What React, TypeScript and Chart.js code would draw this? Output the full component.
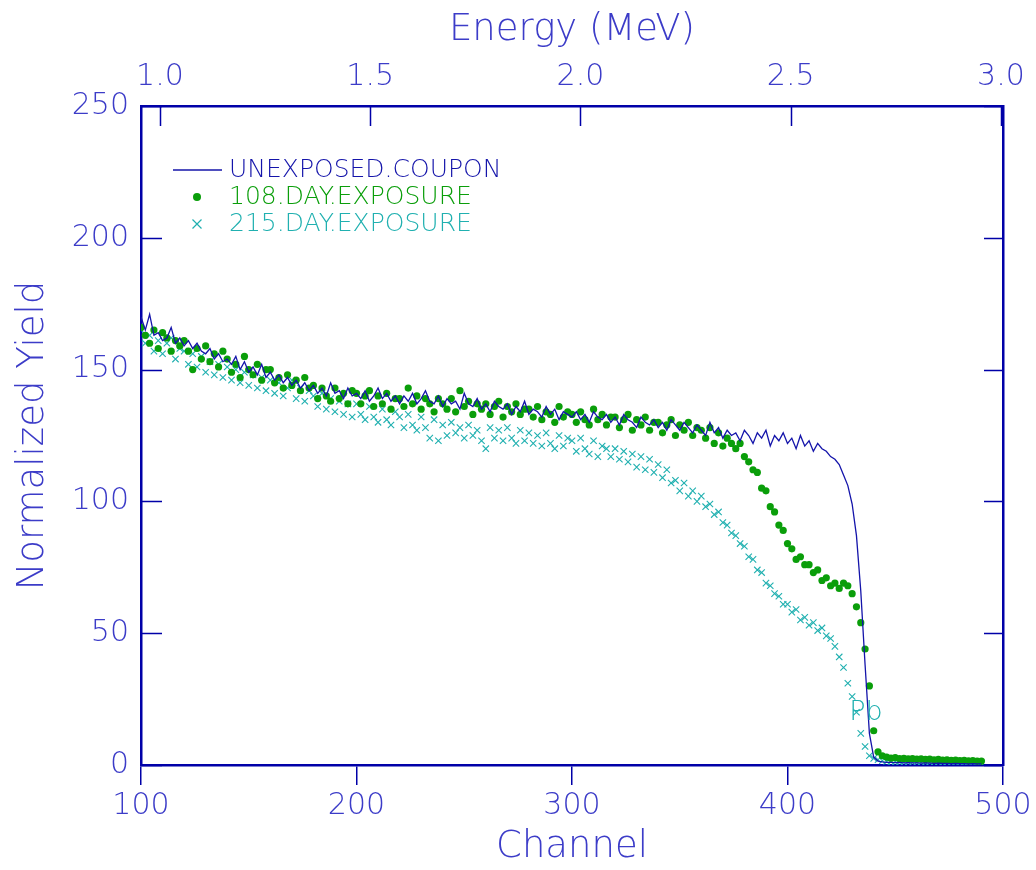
import React, { useEffect, useRef } from 'react';
import { Chart, registerables } from 'chart.js';

Chart.register(...registerables);

// Channel axis of the data: first channel and spacing between recorded channels
const CH_START = 100;
const CH_STEP = 2;

// UNEXPOSED.COUPON (channels 100..490, every 2nd channel)
const unexposed = [
  170, 165, 171, 163, 164, 161, 162, 166, 160, 162,
  159, 161, 158, 160, 157, 156, 158, 154, 156, 153,
  154, 152, 155, 150, 153, 149, 151, 148, 152, 147,
  149, 146, 148, 145, 147, 144, 146, 143, 145, 142,
  144, 141, 143, 140, 145, 141, 142, 139, 143, 140,
  141, 139, 142, 138, 140, 143, 139, 141, 138, 140,
  137, 140, 138, 141, 137, 139, 142, 138, 137, 140,
  136, 139, 137, 138, 135, 141, 137, 136, 139, 135,
  137, 134, 138, 136, 135, 137, 133, 136, 134, 138,
  133, 135, 134, 132, 136, 133, 135, 131, 134, 133,
  132, 134, 131, 133, 130, 134, 132, 131, 133, 130,
  132, 129, 133, 131, 130, 128, 132, 130, 129, 131,
  128, 130, 127, 131, 129, 127, 130, 128, 126, 129,
  127, 125, 130, 126, 128, 124, 127, 125, 126, 123,
  127, 125, 122, 126, 124, 127, 121, 125, 123, 126,
  122, 124, 120, 125, 121, 123, 119, 122, 120, 119,
  117, 116, 114, 110, 106, 99, 87, 66, 38, 12,
  3, 1.5, 1.2, 1, 1, 0.9, 1, 0.8, 0.9, 0.8,
  0.8, 0.7, 0.8, 0.7, 0.6, 0.7, 0.6, 0.6, 0.5, 0.6,
  0.5, 0.5, 0.4, 0.5, 0.4, 0.4,
];

// 108.DAY.EXPOSURE
const day108 = [
  166, 163, 160, 165, 158, 164, 162, 157, 161, 159,
  161, 157, 150, 158, 154, 159, 153, 156, 151, 157,
  154, 149, 152, 147, 155, 150, 148, 152, 146, 150,
  150, 145, 147, 143, 148, 144, 146, 142, 147, 143,
  144, 139, 143, 140, 138, 143, 139, 141, 137, 142,
  141, 137, 140, 142, 136, 140, 137, 141, 135, 139,
  139, 136, 143, 137, 140, 135, 139, 137, 134, 139,
  137, 135, 139, 134, 142, 136, 138, 133, 137, 135,
  137, 133, 136, 138, 132, 136, 134, 137, 133, 135,
  135, 132, 136, 131, 134, 133, 130, 136, 132, 134,
  133, 130, 134, 131, 129, 135, 131, 133, 129, 132,
  132, 128, 131, 133, 127, 131, 129, 132, 127, 130,
  130, 126, 129, 131, 125, 129, 127, 130, 125, 128,
  127, 124, 128, 122, 126, 121, 124, 122, 120, 122,
  117, 115, 112, 111, 105, 104, 98, 96, 91, 89,
  84, 82, 78, 79, 76, 76, 73, 74, 70, 71,
  68, 69, 67, 69, 68, 65, 60, 54, 44, 30,
  13, 5, 3.5, 3, 2.6, 2.8, 2.4, 2.5, 2.3, 2.4,
  2.2, 2.3, 2.1, 2.2, 2, 2.1, 1.9, 2, 1.8, 1.9,
  1.7, 1.8, 1.6, 1.7, 1.5, 1.5,
];

// 215.DAY.EXPOSURE
const day215 = [
  165, 160, 163, 157, 161, 156, 160, 162, 154, 158,
  157, 152, 156, 151, 155, 149, 153, 148, 152, 147,
  151, 146, 150, 145, 149, 144, 148, 143, 147, 142,
  146, 141, 145, 140, 143, 146, 139, 143, 138, 142,
  140, 136, 141, 135, 139, 134, 138, 133, 137, 132,
  137, 133, 131, 136, 132, 130, 135, 131, 129, 134,
  132, 128, 133, 129, 127, 132, 128, 124, 131, 123,
  129, 125, 130, 126, 128, 124, 129, 125, 127, 123,
  120, 128, 124, 127, 123, 128, 124, 122, 127, 123,
  126, 122, 125, 121, 126, 122, 120, 125, 121, 124,
  123, 119, 124, 120, 118, 123, 117, 121, 120, 117,
  120, 116, 119, 115, 118, 113, 117, 112, 116, 111,
  114, 109, 112, 107, 108, 104, 107, 102, 104, 100,
  102, 98, 99, 95, 96, 92, 91, 88, 87, 84,
  83, 79, 78, 74, 73, 69, 68, 65, 64, 61,
  61, 58, 59, 55, 56, 53, 54, 51, 52, 49,
  48, 45, 41, 37, 31, 26, 20, 12, 7, 3.5,
  2.5, 2, 1.6, 1.4, 1.3, 1.2, 1.2, 1.1, 1.1, 1,
  1, 1, 0.9, 1, 0.9, 0.9, 0.8, 0.9, 0.8, 0.8,
  0.8, 0.7, 0.8, 0.7, 0.7, 0.6,
];

const seriesNames = ['UNEXPOSED.COUPON', '108.DAY.EXPOSURE', '215.DAY.EXPOSURE'];
const channelTicks = [100, 200, 300, 400, 500];
const yieldTicks = [0, 50, 100, 150, 200, 250];
const energyTicks = [1.0, 1.5, 2.0, 2.5, 3.0];
const CHANNEL_MIN = 100;
const CHANNEL_MAX = 500;
const ENERGY_MIN = 0.955;
const ENERGY_MAX = 3.005;
const edgeLabelText = 'Pb';
const edgeLabelChannel = 436.4;
const edgeLabelYield = 19.7;

const AXIS = '#0000a8';
const TEXT = '#3c3cc8';
const BLUE = '#1414aa';
const GREEN = '#0a9e0a';
const TEAL = '#20b0b0';
const FONT = '"DejaVu Sans", sans-serif';

const toPoints = (vals: number[]) => vals.map((v, i) => ({ x: CH_START + CH_STEP * i, y: v }));

const decorPlugin = {
  id: 'decor',
  afterDatasetsDraw(chart: any) {
    const { ctx, chartArea: a, scales } = chart;
    const y = scales.y;
    const x = scales.x;
    const x2 = scales.x2;
    ctx.save();
    // inward tick marks on left, right and top
    ctx.strokeStyle = AXIS;
    ctx.lineWidth = 1.5;
    ctx.beginPath();
    for (const v of yieldTicks) {
      const py = Math.round(y.getPixelForValue(v)) + 0.5;
      ctx.moveTo(a.left, py);
      ctx.lineTo(a.left + 21, py);
      ctx.moveTo(a.right - 19, py);
      ctx.lineTo(a.right, py);
    }
    for (const e of energyTicks) {
      const px = Math.round(x2.getPixelForValue(e)) + 0.5;
      ctx.moveTo(px, a.top);
      ctx.lineTo(px, a.top + 20);
    }
    ctx.stroke();

    // legend
    const lx = a.left + 32;
    const rows = [a.top + 64, a.top + 91, a.top + 118];
    const textX = a.left + 88;
    ctx.font = `200 25px ${FONT}`;
    ctx.textAlign = 'left';
    ctx.textBaseline = 'middle';
    ctx.strokeStyle = BLUE;
    ctx.lineWidth = 1.3;
    ctx.beginPath();
    ctx.moveTo(lx, rows[0]);
    ctx.lineTo(lx + 49, rows[0]);
    ctx.stroke();
    ctx.fillStyle = BLUE;
    ctx.fillText(seriesNames[0], textX, rows[0]);
    ctx.fillStyle = GREEN;
    ctx.beginPath();
    ctx.arc(lx + 24, rows[1], 4, 0, Math.PI * 2);
    ctx.fill();
    ctx.fillText(seriesNames[1], textX, rows[1]);
    ctx.strokeStyle = TEAL;
    ctx.lineWidth = 1.2;
    ctx.beginPath();
    const cx = lx + 24, cy = rows[2], r = 4.5;
    ctx.moveTo(cx - r, cy - r); ctx.lineTo(cx + r, cy + r);
    ctx.moveTo(cx - r, cy + r); ctx.lineTo(cx + r, cy - r);
    ctx.stroke();
    ctx.fillStyle = TEAL;
    ctx.fillText(seriesNames[2], textX, rows[2]);

    // edge label
    ctx.font = `200 27px ${FONT}`;
    ctx.textAlign = 'center';
    ctx.fillStyle = TEAL;
    ctx.fillText(edgeLabelText, x.getPixelForValue(edgeLabelChannel), y.getPixelForValue(edgeLabelYield));
    ctx.restore();
  },
};

export default function App() {
  const ref = useRef<HTMLCanvasElement | null>(null);
  useEffect(() => {
    if (!ref.current) return;
    const tickFont = { family: FONT, size: 30, weight: '200' as any };
    const titleFont = { family: FONT, size: 37, weight: '200' as any };
    const chart = new Chart(ref.current, {
      type: 'scatter',
      data: {
        datasets: [
          {
            label: seriesNames[0],
            data: toPoints(unexposed),
            showLine: true,
            borderColor: BLUE,
            borderWidth: 1.3,
            pointRadius: 0,
            tension: 0,
          },
          {
            label: seriesNames[1],
            data: toPoints(day108),
            showLine: false,
            pointStyle: 'circle',
            pointRadius: 3.6,
            backgroundColor: GREEN,
            borderColor: GREEN,
            borderWidth: 0,
          },
          {
            label: seriesNames[2],
            data: toPoints(day215),
            showLine: false,
            pointStyle: 'crossRot',
            pointRadius: 4.5,
            borderColor: TEAL,
            backgroundColor: TEAL,
            borderWidth: 1.1,
          },
        ],
      } as any,
      options: {
        animation: false,
        responsive: false,
        devicePixelRatio: 1,
        layout: { padding: 0 },
        plugins: { legend: { display: false }, tooltip: { enabled: false } },
        scales: {
          x: {
            type: 'linear',
            position: 'bottom',
            min: CHANNEL_MIN,
            max: CHANNEL_MAX,
            afterBuildTicks: (s: any) => { s.ticks = channelTicks.map((v) => ({ value: v })); },
            afterFit: (s: any) => { s.height = 105; },
            ticks: { color: TEXT, font: tickFont, padding: 3, maxRotation: 0 },
            grid: { display: true, drawOnChartArea: false, drawTicks: true, tickLength: 20, color: AXIS, lineWidth: 1.5 },
            border: { display: true, color: AXIS, width: 2.5 },
            title: { display: true, text: 'Channel', color: TEXT, font: titleFont, padding: { top: 0, bottom: 0 } },
          },
          x2: {
            type: 'linear',
            position: 'top',
            min: ENERGY_MIN,
            max: ENERGY_MAX,
            afterBuildTicks: (s: any) => { s.ticks = energyTicks.map((v) => ({ value: v })); },
            afterFit: (s: any) => { s.height = 106; },
            ticks: { color: TEXT, font: tickFont, padding: 11, maxRotation: 0, callback: (v: any) => Number(v).toFixed(1) },
            grid: { display: true, drawOnChartArea: false, drawTicks: false },
            border: { display: true, color: AXIS, width: 2.5 },
            title: { display: true, text: 'Energy (MeV)', color: TEXT, font: titleFont, padding: { top: 8, bottom: 0 } },
          },
          y: {
            type: 'linear',
            position: 'left',
            min: 0,
            max: 250,
            afterBuildTicks: (s: any) => { s.ticks = yieldTicks.map((v) => ({ value: v })); },
            afterFit: (s: any) => { s.width = 141; },
            ticks: { color: TEXT, font: tickFont, padding: 12 },
            grid: { display: true, drawOnChartArea: false, drawTicks: false },
            border: { display: true, color: AXIS, width: 2.5 },
            title: { display: true, text: 'Normalized Yield', color: TEXT, font: titleFont, padding: { top: 11, bottom: 0 } },
          },
          y2: {
            type: 'linear',
            position: 'right',
            min: 0,
            max: 250,
            afterFit: (s: any) => { s.width = 33; },
            ticks: { display: false },
            grid: { display: true, drawOnChartArea: false, drawTicks: false },
            border: { display: true, color: AXIS, width: 2.5 },
          },
        },
      } as any,
      plugins: [decorPlugin],
    });
    return () => chart.destroy();
  }, []);
  return (
    <div style={{ position: 'absolute', left: 0, top: 0, width: 1036, height: 870, background: '#fff' }}>
      <canvas ref={ref} width={1036} height={870} style={{ display: 'block', width: 1036, height: 870 }} />
    </div>
  );
}
